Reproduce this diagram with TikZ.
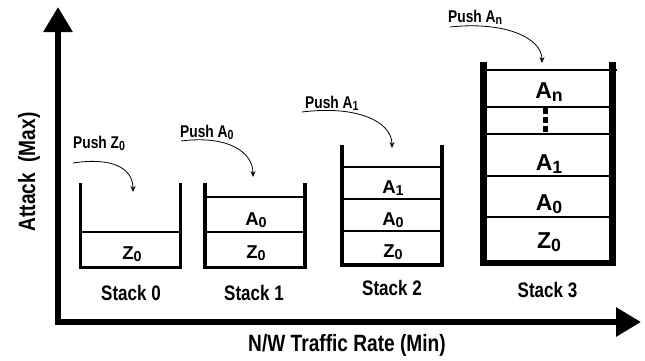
\documentclass[tikz,border=0pt]{standalone}
\usepackage{fontspec}
\usepackage{graphicx}
\setmainfont{Liberation Sans}
\newfontfamily\narrowsans{Liberation Sans}[FakeStretch=0.81]
\usetikzlibrary{arrows.meta}

% lowered, reduced index used in the stack entries
\newcommand{\idx}[1]{\raisebox{-0.15em}{\scalebox{0.77}{#1}}}

\tikzset{
  txt/.style={inner sep=0pt, anchor=base},
  axislbl/.style={txt, font=\narrowsans\bfseries\fontsize{23.6}{24}\selectfont},
  stacklbl/.style={txt, font=\narrowsans\bfseries\fontsize{21}{21}\selectfont},
  pushlbl/.style={inner sep=0pt, anchor=base west, font=\narrowsans\bfseries\fontsize{17}{17}\selectfont},
  cell/.style={txt, font=\bfseries\fontsize{18.6}{19}\selectfont},
  bigcell/.style={txt, font=\bfseries\fontsize{23}{23}\selectfont},
  axis/.style={line width=6pt, line join=miter,
    {Triangle[length=25pt,width=28pt]}-{Triangle[length=25pt,width=28pt]}},
  wall/.style={line width=#1, line join=miter, line cap=butt},
  divider/.style={line width=1.2pt},
  push/.style={line width=0.8pt, -{Stealth[length=6pt,width=5pt]}},
}

\begin{document}
\begin{tikzpicture}[x=1pt,y=-1pt]
\useasboundingbox (0,0) rectangle (645,360);

% axes
\coordinate (ytip) at (58,7);
\coordinate (O) at (58,322);
\coordinate (xtip) at (641,322);
\draw[axis] (ytip) -- (O) -- (xtip);
\node[axislbl, rotate=90, anchor=center] (ylbl) at (29,172) {Attack\ \ (Max)};
\node[axislbl] (xlbl) at (347,351) {N/W Traffic Rate (Min)};

% ---- Stack 0
\draw[wall=3pt] (80.5,183) -- (80.5,267) -- (180.5,267) -- (180.5,183);
\draw[divider] (80.5,232) -- (180.5,232);
\node[cell] (s0z) at (132,259) {Z\idx{0}};
\node[stacklbl] (s0) at (131,300) {Stack 0};
\node[pushlbl] (p0) at (73,148) {Push Z\idx{0}};
\coordinate (p0a) at (73,163);
\coordinate (p0b) at (133,192);
\draw[push] (p0a) .. controls (112,157) and (133,168) .. (p0b);

% ---- Stack 1
\draw[wall=3.3pt] (205,183) -- (205,267.5) -- (305,267.5) -- (305,183);
\draw[divider] (205,197) -- (305,197);
\draw[divider] (205,232) -- (305,232);
\node[cell] (s1a0) at (256,225) {A\idx{0}};
\node[cell] (s1z) at (256,258) {Z\idx{0}};
\node[stacklbl] (s1) at (254,300) {Stack 1};
\node[pushlbl] (p1) at (180,137) {Push A\idx{0}};
\coordinate (p1a) at (181,141);
\coordinate (p1b) at (253,177);
\draw[push] (p1a) .. controls (228,135) and (253,152) .. (p1b);

% ---- Stack 2
\draw[wall=4.2pt] (342,145) -- (342,265) -- (442,265) -- (442,145);
\draw[divider] (342,167) -- (442,167);
\draw[divider] (342,199) -- (442,199);
\draw[divider] (342,231) -- (442,231);
\node[cell] (s2a1) at (393,193) {A\idx{1}};
\node[cell] (s2a0) at (393,225) {A\idx{0}};
\node[cell] (s2z) at (393,257) {Z\idx{0}};
\node[stacklbl] (s2) at (392,295) {Stack 2};
\node[pushlbl] (p2) at (305,108) {Push A\idx{1}};
\coordinate (p2a) at (302,112);
\coordinate (p2b) at (392,148);
\draw[push] (p2a) .. controls (358,105) and (392,122) .. (p2b);

% ---- Stack 3
\draw[wall=6.5pt] (483.5,62) -- (483.5,263) -- (612.5,263) -- (612.5,62);
\draw[divider] (483.5,70) -- (617,70);
\draw[divider] (483.5,107) -- (612.5,107);
\draw[divider] (483.5,134) -- (612.5,134);
\draw[divider] (483.5,176) -- (612.5,176);
\draw[divider] (483.5,217) -- (612.5,217);
\node[bigcell] (s3an) at (549,98) {A\idx{n}};
\foreach \y in {108,117,126}
  \fill (543,\y) rectangle ++(4.5,6);
\node[bigcell] (s3a1) at (549,170) {A\idx{1}};
\node[bigcell] (s3a0) at (549,210) {A\idx{0}};
\node[bigcell] (s3z) at (549,248) {Z\idx{0}};
\node[stacklbl] (s3) at (547.5,297) {Stack 3};
\node[pushlbl] (p3) at (448,22) {Push A\idx{n}};
\coordinate (p3a) at (450,27);
\coordinate (p3b) at (542,63);
\draw[push] (p3a) .. controls (505,21) and (542,38) .. (p3b);
\end{tikzpicture}
\end{document}
